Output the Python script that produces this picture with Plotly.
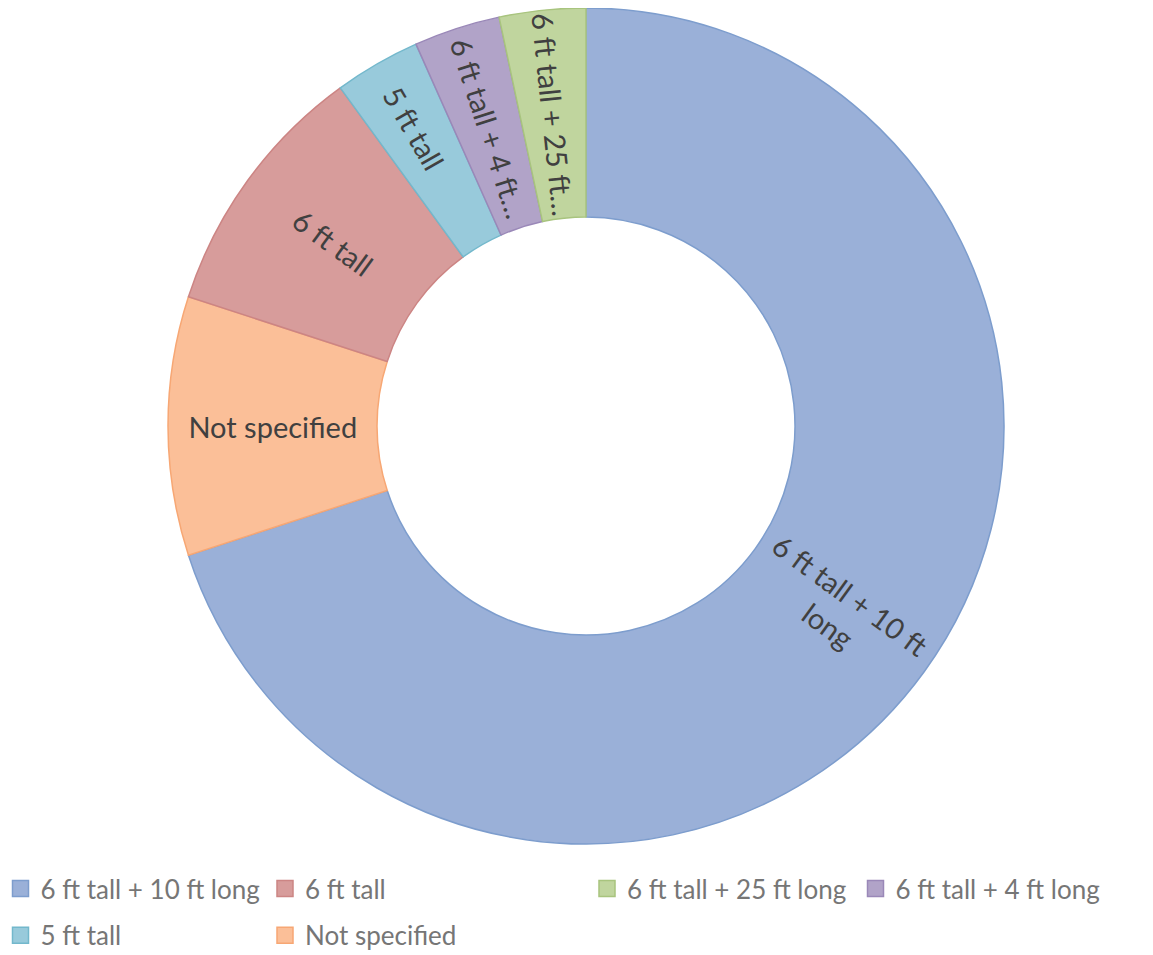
import math
import plotly.graph_objects as go

# ---- data (clockwise from 12 o'clock) ----
labels = ["6 ft tall + 10 ft long", "Not specified", "6 ft tall", "5 ft tall",
          "6 ft tall + 4 ft long", "6 ft tall + 25 ft long"]
values = [21, 3, 3, 1, 1, 1]
slice_text = ["6 ft tall + 10 ft<br>long", "Not specified", "6 ft tall", "5 ft tall",
              "6 ft tall + 4 ft…", "6 ft tall + 25 ft…"]
fill_colors = ["#9AB0D8", "#FBBF98", "#D79C9B", "#98CADB", "#B1A3C8", "#C0D59E"]
line_colors = ["#7D9DCD", "#F7A774", "#CC8584", "#73B8CC", "#9A88B8", "#A8C47E"]

# legend (Excel ordering, laid out in columns)
legend_order = ["6 ft tall + 10 ft long", "6 ft tall", "6 ft tall + 25 ft long",
                "6 ft tall + 4 ft long", "5 ft tall", "Not specified"]
legend_slot = ["legend", "legend2", "legend3", "legend4", "legend", "legend2"]

W, H = 1145, 947
HOLE = 0.5
dom_x = [160 / W, 996 / W]
dom_y = [1 - 836 / H, 1.0]
LABEL_FONT = dict(family="Lato", size=29, color="#404040")

# the largest slice gets its label placed radially at its own mid-angle
big = 0
inside_text = [("" if i == big else t) for i, t in enumerate(slice_text)]

fig = go.Figure()

fig.add_trace(go.Pie(
    labels=labels,
    values=values,
    text=inside_text,
    textinfo="text",
    textposition="inside",
    insidetextorientation="radial",
    hole=HOLE,
    sort=False,
    direction="clockwise",
    rotation=0,
    marker=dict(colors=fill_colors, line=dict(color=line_colors, width=1.5)),
    textfont=LABEL_FONT,
    domain=dict(x=dom_x, y=dom_y),
    showlegend=False,
    hoverinfo="label+value+percent",
))

# radial label for the big slice, derived from the data
total = sum(values)
mid_frac = (sum(values[:big]) + values[big] / 2) / total
theta = 2 * math.pi * mid_frac
r_px = (dom_x[1] - dom_x[0]) * W / 2
r_mid = r_px * (1 + HOLE) / 2
cx = (dom_x[0] + dom_x[1]) / 2
cy = (dom_y[0] + dom_y[1]) / 2
fig.add_annotation(
    x=cx + r_mid * math.sin(theta) / W,
    y=cy + r_mid * math.cos(theta) / H,
    xref="paper", yref="paper", showarrow=False,
    xanchor="center", yanchor="middle",
    text=slice_text[big], textangle=math.degrees(theta) - 90,
    font=LABEL_FONT, align="center",
)

color_of = dict(zip(labels, fill_colors))
line_of = dict(zip(labels, line_colors))
for name, slot in zip(legend_order, legend_slot):
    fig.add_trace(go.Scatter(
        x=[None], y=[None], mode="markers", name=name,
        legend=slot, legendgroup=name, hoverinfo="skip",
        marker=dict(symbol="square", size=16, color=color_of[name],
                    line=dict(color=line_of[name], width=1.5)),
    ))

leg_common = dict(yanchor="top", xanchor="left", y=1 - 857 / H, bgcolor="rgba(0,0,0,0)",
                  font=dict(family="Lato", size=26, color="#767676"),
                  tracegroupgap=10, orientation="v")

fig.update_layout(
    width=W, height=H,
    margin=dict(l=0, r=0, t=0, b=0, autoexpand=False),
    paper_bgcolor="white", plot_bgcolor="white",
    xaxis=dict(visible=False), yaxis=dict(visible=False),
    uniformtext=dict(minsize=29, mode="show"),
    legend=dict(x=-7.5 / W, **leg_common),
    legend2=dict(x=257 / W, **leg_common),
    legend3=dict(x=579 / W, **leg_common),
    legend4=dict(x=847.5 / W, **leg_common),
)

fig.write_html("out.html")
